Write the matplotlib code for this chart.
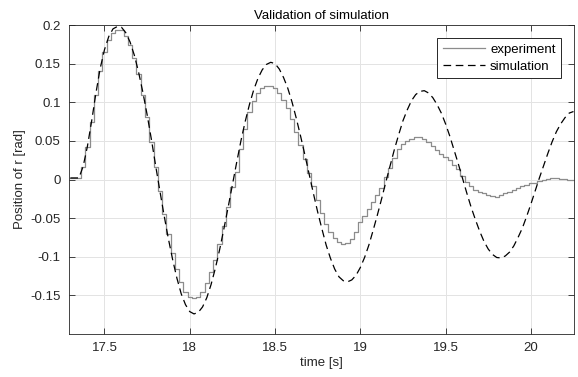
import matplotlib

matplotlib.use("Agg")
import matplotlib.pyplot as plt

plt.rcParams["font.family"] = ["Liberation Sans", "DejaVu Sans"]
plt.rcParams["axes.unicode_minus"] = False
plt.rcParams["lines.scale_dashes"] = False

# sample times [s]
time_s = [
    17.300, 17.325, 17.350, 17.375, 17.400, 17.425, 17.450, 17.475, 17.500, 17.525,
    17.550, 17.575, 17.600, 17.625, 17.650, 17.675, 17.700, 17.725, 17.750, 17.775,
    17.800, 17.825, 17.850, 17.875, 17.900, 17.925, 17.950, 17.975, 18.000, 18.025,
    18.050, 18.075, 18.100, 18.125, 18.150, 18.175, 18.200, 18.225, 18.250, 18.275,
    18.300, 18.325, 18.350, 18.375, 18.400, 18.425, 18.450, 18.475, 18.500, 18.525,
    18.550, 18.575, 18.600, 18.625, 18.650, 18.675, 18.700, 18.725, 18.750, 18.775,
    18.800, 18.825, 18.850, 18.875, 18.900, 18.925, 18.950, 18.975, 19.000, 19.025,
    19.050, 19.075, 19.100, 19.125, 19.150, 19.175, 19.200, 19.225, 19.250, 19.275,
    19.300, 19.325, 19.350, 19.375, 19.400, 19.425, 19.450, 19.475, 19.500, 19.525,
    19.550, 19.575, 19.600, 19.625, 19.650, 19.675, 19.700, 19.725, 19.750, 19.775,
    19.800, 19.825, 19.850, 19.875, 19.900, 19.925, 19.950, 19.975, 20.000, 20.025,
    20.050, 20.075, 20.100, 20.125, 20.150, 20.175, 20.200, 20.225, 20.250,
]

# measured position of r [rad]
position_experiment = [
    0.002, 0.002, 0.002, 0.016, 0.042, 0.075, 0.110, 0.141, 0.165, 0.181,
    0.190, 0.194, 0.193, 0.186, 0.174, 0.157, 0.136, 0.110, 0.081, 0.049,
    0.016, -0.015, -0.045, -0.071, -0.095, -0.116, -0.133, -0.145, -0.152, -0.1535,
    -0.152, -0.146, -0.134, -0.120, -0.104, -0.083, -0.060, -0.035, -0.010, 0.010,
    0.040, 0.066, 0.087, 0.102, 0.112, 0.118, 0.121, 0.121, 0.118, 0.112,
    0.103, 0.092, 0.078, 0.062, 0.045, 0.027, 0.009, -0.009, -0.026, -0.044,
    -0.057, -0.068, -0.076, -0.081, -0.083, -0.082, -0.077, -0.068, -0.055, -0.047,
    -0.038, -0.029, -0.020, -0.011, 0.003, 0.015, 0.028, 0.039, 0.046, 0.050,
    0.053, 0.0545, 0.0548, 0.053, 0.049, 0.044, 0.038, 0.033, 0.029, 0.025,
    0.019, 0.014, 0.005, -0.003, -0.009, -0.014, -0.016, -0.018, -0.020, -0.022,
    -0.0223, -0.020, -0.018, -0.016, -0.014, -0.011, -0.009, -0.007, -0.005, -0.004,
    -0.002, 0.000, 0.001, 0.0015, 0.0016, 0.0012, 0.0008, 0.000, -0.0005,
]

# simulated position of r [rad]
position_simulation = [
    0.002, 0.002, 0.002, 0.017, 0.043, 0.076, 0.112, 0.144, 0.168, 0.185,
    0.195, 0.198, 0.197, 0.190, 0.178, 0.161, 0.139, 0.113, 0.084, 0.052,
    0.018, -0.015, -0.047, -0.077, -0.104, -0.128, -0.148, -0.162, -0.171, -0.174,
    -0.172, -0.165, -0.153, -0.136, -0.115, -0.091, -0.064, -0.036, -0.007, 0.022,
    0.050, 0.075, 0.097, 0.116, 0.131, 0.142, 0.149, 0.1517, 0.150, 0.143,
    0.132, 0.118, 0.100, 0.079, 0.056, 0.032, 0.007, -0.018, -0.042, -0.064,
    -0.085, -0.102, -0.116, -0.126, -0.131, -0.1325, -0.130, -0.124, -0.114, -0.101,
    -0.085, -0.066, -0.046, -0.025, -0.003, 0.018, 0.039, 0.058, 0.076, 0.090,
    0.102, 0.110, 0.114, 0.115, 0.112, 0.106, 0.097, 0.086, 0.072, 0.056,
    0.038, 0.020, 0.001, -0.018, -0.036, -0.052, -0.067, -0.080, -0.090, -0.097,
    -0.101, -0.1015, -0.099, -0.094, -0.086, -0.075, -0.063, -0.048, -0.032, -0.015,
    0.002, 0.018, 0.034, 0.049, 0.062, 0.072, 0.080, 0.086, 0.088,
]

x_ticks = [17.5, 18, 18.5, 19, 19.5, 20]
x_tick_labels = ["17.5", "18", "18.5", "19", "19.5", "20"]
y_ticks = [-0.15, -0.1, -0.05, 0, 0.05, 0.1, 0.15, 0.2]
y_tick_labels = ["-0.15", "-0.1", "-0.05", "0", "0.05", "0.1", "0.15", "0.2"]

axis_color = "#262626"
fs = 9.5

fig = plt.figure(figsize=(5.78, 3.77), dpi=100)
ax = fig.add_axes([69 / 578, 43 / 377, 505 / 578, 309 / 377])

ax.plot(time_s, position_experiment, drawstyle="steps-mid", color="#8c8c8c",
        linewidth=0.9, label="experiment")
ax.plot(time_s, position_simulation, color="black", linewidth=0.9,
        linestyle=(0, (5.5, 3.3)), label="simulation")

ax.set_xlim(17.292, 20.253)
ax.set_ylim(-0.2, 0.2)
ax.set_xticks(x_ticks)
ax.set_xticklabels(x_tick_labels)
ax.set_yticks(y_ticks)
ax.set_yticklabels(y_tick_labels)

ax.set_axisbelow(True)
ax.grid(True, color="#e3e3e3", linewidth=0.7)
ax.tick_params(direction="in", top=True, right=True, length=4, width=0.6,
               colors=axis_color, labelsize=fs, pad=6)
for spine in ax.spines.values():
    spine.set_linewidth(0.6)
    spine.set_color(axis_color)

ax.set_title("Validation of simulation", fontsize=fs, color="black", pad=4)
ax.set_xlabel("time [s]", fontsize=fs, color=axis_color, labelpad=2)
ax.set_ylabel("Position of r [rad]", fontsize=fs, color=axis_color, labelpad=3)

leg = ax.legend(loc="upper right", fontsize=fs, handlelength=3.2, handletextpad=0.4,
                borderaxespad=1.0, fancybox=False, framealpha=1, edgecolor=axis_color,
                borderpad=0.4, labelspacing=0.35)
leg.get_frame().set_linewidth(0.7)

fig.savefig("out.png", dpi=100)
